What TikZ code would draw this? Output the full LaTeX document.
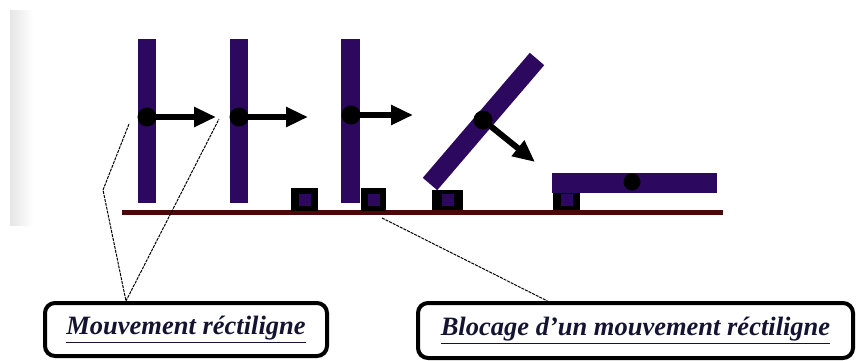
\documentclass[tikz,border=0pt]{standalone}
\usepackage{fontspec}
\setmainfont{Liberation Serif}
\usetikzlibrary{arrows.meta}
\definecolor{violet}{RGB}{45,8,95}
\definecolor{sol}{RGB}{75,8,8}
\definecolor{encre}{RGB}{20,20,50}
\begin{document}
\begin{tikzpicture}[x=1pt,y=-1pt,
    barre/.style={fill=violet},
    fleche/.style={line width=6pt,-{Triangle[length=22pt,width=19pt]}},
    bulle/.style={draw,line width=4pt,rounded corners=10pt,inner sep=0pt,
        font=\fontsize{26.5}{30}\selectfont\bfseries\itshape,text=encre},
    rappel/.style={line width=1pt,dash pattern=on 3pt off 1pt}]
\useasboundingbox (0,0) rectangle (856,361);
\shade[left color=black!10,right color=white] (10,11) rectangle (33,225);
% sol
\draw[sol,line width=5pt] (122,212)--(723,212);
% butees
\foreach \a/\b/\c/\d in {291/188/318/211,361/188/386/211,432/190/463/210,553/190/580/210}
{
    \fill (\a,\b) rectangle (\c,\d);
    \fill[violet] ({(\a+\c)/2-6},{(\b+\d)/2-6}) rectangle ++(12,12);
}
% barres verticales
\foreach \a/\b in {138/156,230/248,341/360}
{
    \fill[barre] (\a,39) rectangle (\b,203);
}
\draw[violet,line width=19pt] (430,184)--(537,59);
\fill[barre] (552,173) rectangle (717,193);
% fleches
\foreach \x/\y/\u/\v in {147/117/216/117,239/117/308/117,351/115/413/115,483/120/535/162}
{
    \draw[fleche] (\x,\y)--(\u,\v);
    \fill (\x,\y) circle(9.5pt);
}
\fill (632,182) circle(8.5pt);
% bulles
\node[bulle,minimum width=282pt,minimum height=53pt] (mouv) at (186,329.5)
    {\underline{Mouvement réctiligne}};
\node[bulle,minimum width=435pt,minimum height=55pt] (bloc) at (635.5,330.5)
    {\underline{Blocage d{\char"27}un mouvement réctiligne}};
\coordinate (m1) at (129,124);
\coordinate (m2) at (219,119);
\coordinate (b1) at (382,218);
\draw[rappel] (m1)--(103,190)--([xshift=-60pt]mouv.north)--(m2);
\draw[rappel] (b1)--([xshift=-88pt]bloc.north);
\end{tikzpicture}
\end{document}
